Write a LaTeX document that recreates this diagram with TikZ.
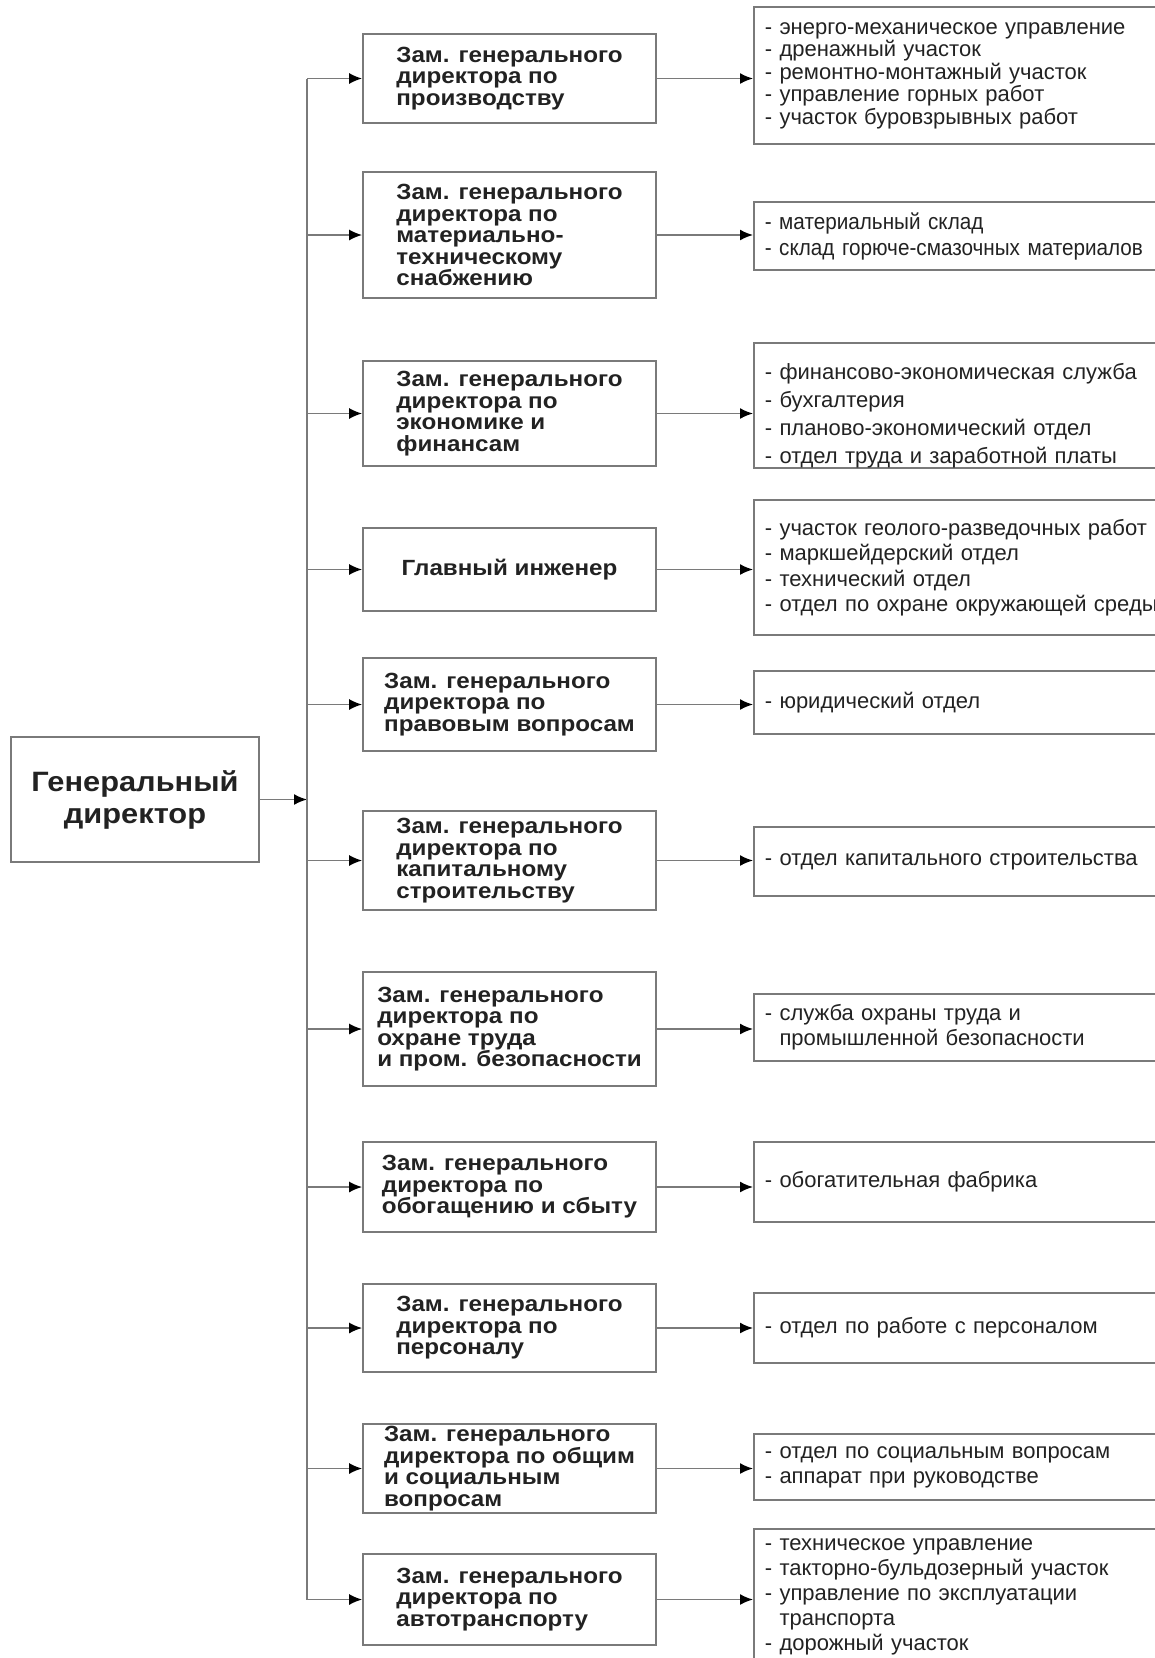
\documentclass[tikz,border=0pt]{standalone}
\usepackage{fontspec}
\setmainfont{Liberation Sans}
\newfontfamily\wideface[FakeStretch=1.1]{Liberation Sans}
\newfontfamily\narrowface[FakeStretch=0.92]{Liberation Sans}
\usetikzlibrary{arrows.meta}
\definecolor{linegray}{HTML}{7A7A7A}
\definecolor{textgray}{HTML}{222222}

\begin{document}
\begin{tikzpicture}[x=1pt,y=-1pt,
    box/.style={draw=linegray,line width=1.7pt,text=textgray,inner sep=0pt},
    chief/.style={box,minimum width=248pt,minimum height=125pt,align=center,
        font=\wideface\bfseries\fontsize{28}{32}\selectfont},
    deputy/.style={box,minimum width=293pt,align=left,
        font=\wideface\bfseries\fontsize{22}{21.5}\selectfont},
    units/.style={box,anchor=west,text width=428pt,inner xsep=11pt,align=left,
        font=\fontsize{22}{#1}\selectfont},
    units/.default=25,
    link/.style={draw=linegray,line width=1.7pt,-{Latex[color=black,length=13pt,width=11pt]}},
    trunk/.style={draw=linegray,line width=1.7pt}]
    \path[use as bounding box] (0,0) rectangle (1155,1658);
    \clip (0,0) rectangle (1155,1658);

    \node[chief] (gd) at (135,799.5) {Генеральный\\директор};
    \coordinate (fork) at (307,799.5);

    % deputies
    \node[deputy,minimum height=89pt] (d1) at (509.5,78.5) {Зам. генерального\\директора по\\производству};
    \node[deputy,minimum height=126pt] (d2) at (509.5,235) {Зам. генерального\\директора по\\материально-\\техническому\\снабжению};
    \node[deputy,minimum height=105pt] (d3) at (509.5,413.5) {Зам. генерального\\директора по\\экономике и\\финансам};
    \node[deputy,minimum height=83pt] (d4) at (509.5,569.5) {Главный инженер};
    \node[deputy,minimum height=93pt] (d5) at (509.5,704.5) {Зам. генерального\\директора по\\правовым вопросам};
    \node[deputy,minimum height=99pt] (d6) at (509.5,860.5) {Зам. генерального\\директора по\\капитальному\\строительству};
    \node[deputy,minimum height=114pt] (d7) at (509.5,1029) {Зам. генерального\\директора по\\охране труда\\и пром. безопасности};
    \node[deputy,minimum height=90pt] (d8) at (509.5,1187) {Зам. генерального\\директора по\\обогащению и сбыту};
    \node[deputy,minimum height=88pt] (d9) at (509.5,1328) {Зам. генерального\\директора по\\персоналу};
    \node[deputy,minimum height=89pt] (d10) at (509.5,1468.5) {Зам. генерального\\директора по общим\\и социальным\\вопросам};
    \node[deputy,minimum height=91pt] (d11) at (509.5,1599.5) {Зам. генерального\\директора по\\автотранспорту};

    % departments
    \node[units=22.5,minimum height=137pt] (u1) at (753,75.5) {- энерго-механическое управление\\- дренажный участок\\- ремонтно-монтажный участок\\- управление горных работ\\- участок буровзрывных работ};
    \node[units,minimum height=68pt,font=\narrowface\fontsize{22.5}{26}\selectfont] (u2) at (753,236) {- материальный склад\\- склад горюче-смазочных материалов};
    \node[units=28,minimum height=119pt] (u3) at (753,405.5) {\rule{0pt}{36pt}- финансово-экономическая служба\\- бухгалтерия\\- планово-экономический отдел\\- отдел труда и заработной платы};
    \node[units=25.5,minimum height=135pt] (u4) at (753,567.5) {- участок геолого-разведочных работ\\- маркшейдерский отдел\\- технический отдел\\- отдел по охране окружающей среды};
    \node[units,minimum height=63pt] (u5) at (753,702.5) {- юридический отдел};
    \node[units,minimum height=69pt] (u6) at (753,861.5) {- отдел капитального строительства};
    \node[units,minimum height=67pt] (u7) at (753,1027.5) {- служба охраны труда и\\\hphantom{- }промышленной безопасности};
    \node[units,minimum height=80pt] (u8) at (753,1182) {- обогатительная фабрика};
    \node[units,minimum height=70pt] (u9) at (753,1328) {- отдел по работе с персоналом};
    \node[units,minimum height=66pt] (u10) at (753,1467) {- отдел по социальным вопросам\\- аппарат при руководстве};
    \node[units,minimum height=136pt] (u11) at (753,1597) {- техническое управление\\- такторно-бульдозерный участок\\- управление по эксплуатации\\\hphantom{- }транспорта\\- дорожный участок};

    \draw[link] (gd) -- (fork);
    \draw[trunk] (fork |- d1) -- (fork |- d11);
    \draw[link] (fork |- d1) -- (d1);
    \draw[link] (fork |- d2) -- (d2);
    \draw[link] (fork |- d3) -- (d3);
    \draw[link] (fork |- d4) -- (d4);
    \draw[link] (fork |- d5) -- (d5);
    \draw[link] (fork |- d6) -- (d6);
    \draw[link] (fork |- d7) -- (d7);
    \draw[link] (fork |- d8) -- (d8);
    \draw[link] (fork |- d9) -- (d9);
    \draw[link] (fork |- d10) -- (d10);
    \draw[link] (fork |- d11) -- (d11);

    \draw[link] (d1) -- (d1 -| u1.west);
    \draw[link] (d2) -- (d2 -| u2.west);
    \draw[link] (d3) -- (d3 -| u3.west);
    \draw[link] (d4) -- (d4 -| u4.west);
    \draw[link] (d5) -- (d5 -| u5.west);
    \draw[link] (d6) -- (d6 -| u6.west);
    \draw[link] (d7) -- (d7 -| u7.west);
    \draw[link] (d8) -- (d8 -| u8.west);
    \draw[link] (d9) -- (d9 -| u9.west);
    \draw[link] (d10) -- (d10 -| u10.west);
    \draw[link] (d11) -- (d11 -| u11.west);
\end{tikzpicture}
\end{document}
